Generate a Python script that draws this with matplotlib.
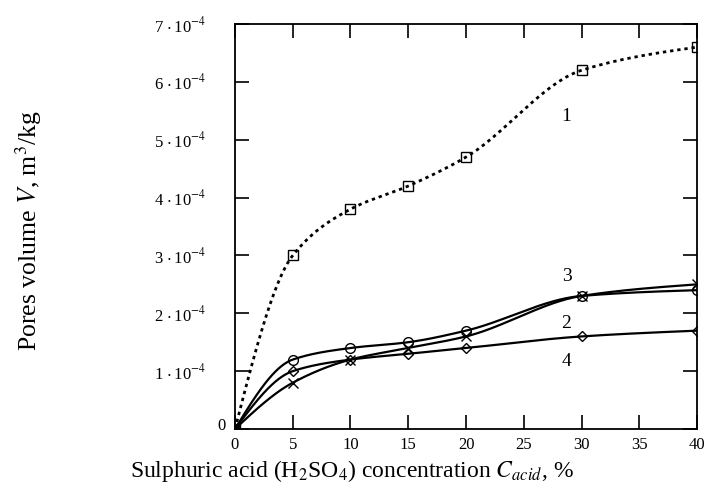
import numpy as np
import matplotlib
matplotlib.use("Agg")
import matplotlib.pyplot as plt
from matplotlib.ticker import FuncFormatter

plt.rcParams["font.family"] = ["Liberation Serif", "DejaVu Serif"]
plt.rcParams["mathtext.fontset"] = "stix"

# concentration, %
conc = [0, 5, 10, 15, 20, 30, 40]
# pore volume, in 1e-4 m3/kg
curve1 = [0, 3.0, 3.8, 4.2, 4.7, 6.2, 6.6]   # squares, dotted
curve2 = [0, 1.2, 1.4, 1.5, 1.7, 2.3, 2.4]   # circles
curve3 = [0, 0.8, 1.2, 1.4, 1.6, 2.3, 2.5]   # crosses
curve4 = [0, 1.0, 1.2, 1.3, 1.4, 1.6, 1.7]   # diamonds


def pchip(x, y, n=300):
    # monotone cubic, just for drawing a smooth line through the points
    x = np.asarray(x, float)
    y = np.asarray(y, float)
    h = np.diff(x)
    d = np.diff(y) / h
    m = np.zeros_like(y)
    for k in range(1, len(x) - 1):
        if d[k - 1] * d[k] > 0:
            w1 = 2 * h[k] + h[k - 1]
            w2 = h[k] + 2 * h[k - 1]
            m[k] = (w1 + w2) / (w1 / d[k - 1] + w2 / d[k])
    m[0] = max(d[0] * 1.5 - m[1] * 0.5, 0)
    m[-1] = max(d[-1] * 1.5 - m[-2] * 0.5, 0)
    xs = np.linspace(x[0], x[-1], n)
    i = np.clip(np.searchsorted(x, xs) - 1, 0, len(x) - 2)
    t = (xs - x[i]) / h[i]
    h00 = 2 * t**3 - 3 * t**2 + 1
    h10 = t**3 - 2 * t**2 + t
    h01 = -2 * t**3 + 3 * t**2
    h11 = t**3 - t**2
    ys = h00 * y[i] + h10 * h[i] * m[i] + h01 * y[i + 1] + h11 * h[i] * m[i + 1]
    return xs, ys


fig = plt.figure(figsize=(7.05, 4.93), dpi=100)
ax = fig.add_axes([0.3333, 0.1298, 0.6554, 0.8215])

scale = 1e-4
series = [
    (curve1, "s", (0, (1.2, 1.4)), 2.0),
    (curve2, "o", "-", 1.6),
    (curve3, "x", "-", 1.6),
    (curve4, "D", "-", 1.6),
]
for vals, mk, ls, lw in series:
    xs, ys = pchip(conc, vals)
    ax.plot(xs, ys * scale, color="black", linestyle=ls, linewidth=lw)
    ms = 5 if mk == "D" else 7
    ax.plot(conc, np.array(vals) * scale, linestyle="none", marker=mk,
            markersize=ms, markerfacecolor="none", markeredgecolor="black",
            markeredgewidth=1.0)

ax.text(28.7, 5.41e-4, "1", fontsize=14, ha="center", va="center")
ax.text(28.7, 2.64e-4, "3", fontsize=14, ha="center", va="center")
ax.text(28.7, 1.83e-4, "2", fontsize=14, ha="center", va="center")
ax.text(28.7, 1.17e-4, "4", fontsize=14, ha="center", va="center")

ax.set_xlim(0, 40)
ax.set_ylim(0, 7e-4)
ax.set_xticks(range(0, 41, 5))
ax.set_yticks(np.arange(0, 8) * 1e-4)


def yfmt(v, pos):
    n = int(round(v / 1e-4))
    if n == 0:
        return ""
    return r"%d$\,\cdot$10$^{-4}$" % n


ax.yaxis.set_major_formatter(FuncFormatter(yfmt))
ax.tick_params(direction="in", length=10, width=1.2, top=True, right=True,
               labelsize=12)
ax.tick_params(axis="y", pad=21)
ax.tick_params(axis="x", pad=6)
for sp in ax.spines.values():
    sp.set_linewidth(1.3)

# the zero on the y axis sits closer to the axis than the other labels
ax.annotate("0", xy=(0, 0), xycoords="axes fraction", xytext=(-7, 2),
            textcoords="offset points", ha="right", va="center", fontsize=12)

fig.text(0.041, 0.533, r"Pores volume $V$, m$^3$/kg", rotation=90,
         fontsize=18.5, ha="center", va="center")
fig.text(0.499, 0.045, r"Sulphuric acid (H$_2$SO$_4$) concentration $C_{acid}$, %",
         fontsize=17, ha="center", va="center")

fig.savefig("out.png", dpi=100)
